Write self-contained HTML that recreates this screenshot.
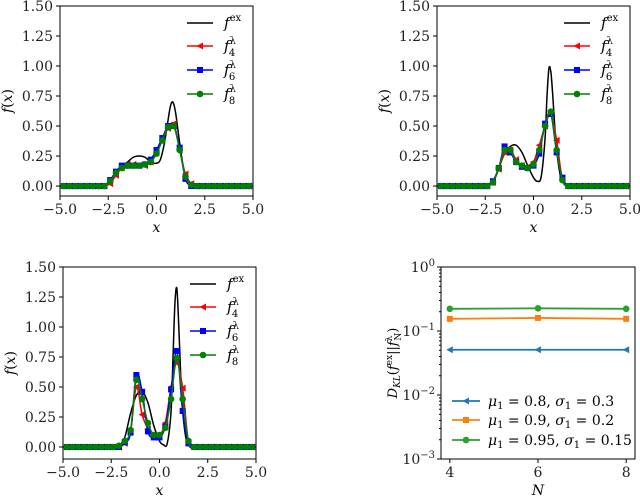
<!DOCTYPE html>
<html><head><meta charset="utf-8">
<style>
body{margin:0;background:#fff;}
svg{display:block;font-family:"DejaVu Serif","Liberation Serif",serif;}
.tk{font-size:14px;fill:#222;}
.it{font-style:italic;}
</style></head>
<body>
<svg id="fig" width="640" height="497" viewBox="0 0 640 497"></svg>
<script>
// ----- data -----
const markerX = [-4.8,-4.5,-4.2,-3.9,-3.6,-3.3,-3.0,-2.7,-2.4,-2.1,-1.8,-1.5,-1.2,-0.9,-0.6,-0.3,0,0.3,0.6,0.9,1.2,1.5,1.8,2.1,2.4,2.7,3.0,3.3,3.6,3.9,4.2,4.5,4.8];
const exactX = [-5,-3,-2.7,-2.4,-2.1,-1.8,-1.5,-1.2,-0.9,-0.6,-0.3,0,0.2,0.4,0.6,0.7,0.8,0.9,1.0,1.1,1.2,1.4,1.6,1.8,2.0,5];
const exactA = [0,0,0.01,0.04,0.1,0.16,0.2,0.24,0.25,0.24,0.2,0.19,0.22,0.35,0.55,0.65,0.7,0.68,0.6,0.48,0.36,0.15,0.05,0.01,0,0];
const exactB = [0,0,0,0.01,0.04,0.15,0.27,0.33,0.34,0.28,0.17,0.07,0.04,0.08,0.4,0.75,0.98,0.95,0.75,0.5,0.3,0.08,0.02,0,0,0];
const exactC = [0,0,0,0,0.01,0.08,0.28,0.43,0.46,0.37,0.18,0.05,0.02,0.03,0.3,0.75,1.2,1.32,1.0,0.6,0.3,0.05,0.01,0,0,0];
const f4A = [0,0,0,0,0,0,0,0,0.02,0.09,0.15,0.18,0.18,0.17,0.17,0.2,0.28,0.38,0.48,0.52,0.3,0.1,0.02,0,0,0,0,0,0,0,0,0,0];
const f6A = [0,0,0,0,0,0,0,0,0.05,0.12,0.17,0.17,0.17,0.17,0.18,0.22,0.3,0.4,0.5,0.5,0.32,0.06,0,0,0,0,0,0,0,0,0,0,0];
const f8A = [0,0,0,0,0,0,0,0,0.04,0.11,0.15,0.17,0.17,0.17,0.18,0.2,0.27,0.38,0.49,0.5,0.3,0.08,0.01,0,0,0,0,0,0,0,0,0,0];
const f4B = [0,0,0,0,0,0,0,0,0,0.03,0.14,0.28,0.3,0.22,0.17,0.16,0.2,0.34,0.5,0.6,0.38,0.05,0,0,0,0,0,0,0,0,0,0,0];
const f6B = [0,0,0,0,0,0,0,0,0,0.04,0.15,0.33,0.28,0.2,0.16,0.15,0.17,0.27,0.52,0.6,0.28,0.07,0,0,0,0,0,0,0,0,0,0,0];
const f8B = [0,0,0,0,0,0,0,0,0,0.03,0.15,0.3,0.3,0.2,0.17,0.15,0.18,0.3,0.5,0.62,0.3,0.05,0,0,0,0,0,0,0,0,0,0,0];
const f4C = [0,0,0,0,0,0,0,0,0,0,0.03,0.13,0.5,0.27,0.15,0.08,0.1,0.2,0.5,0.7,0.49,0.04,0,0,0,0,0,0,0,0,0,0,0];
const f6C = [0,0,0,0,0,0,0,0,0,0,0.04,0.12,0.6,0.46,0.13,0.08,0.08,0.17,0.48,0.8,0.3,0.03,0,0,0,0,0,0,0,0,0,0,0];
const f8C = [0,0,0,0,0,0,0,0,0,0.01,0.05,0.14,0.56,0.4,0.2,0.1,0.1,0.16,0.4,0.74,0.4,0.05,0,0,0,0,0,0,0,0,0,0,0];
const xTicks = [-5,-2.5,0,2.5,5];
const xTickLabels = ["\u22125.0","\u22122.5","0.0","2.5","5.0"];
const yTicks = [0,0.25,0.5,0.75,1.0,1.25,1.5];
const yTickLabels = ["0.00","0.25","0.50","0.75","1.00","1.25","1.50"];
const klN = [4,6,8];
const klBlue = [0.051,0.051,0.051];
const klOrange = [0.155,0.16,0.155];
const klGreen = [0.222,0.226,0.222];
const klYTicks = [0,-1,-2,-3];

const NS="http://www.w3.org/2000/svg";
const svg=document.getElementById('fig');
function mk(tag,attrs,parent){const e=document.createElementNS(NS,tag);for(const k in attrs)e.setAttribute(k,attrs[k]);(parent||svg).appendChild(e);return e;}
function smooth(pts){let d=`M${pts[0][0]},${pts[0][1]}`;for(let i=0;i<pts.length-1;i++){const p0=pts[Math.max(0,i-1)],p1=pts[i],p2=pts[i+1],p3=pts[Math.min(pts.length-1,i+2)];const c1=[p1[0]+(p2[0]-p0[0])/6,p1[1]+(p2[1]-p0[1])/6],c2=[p2[0]-(p3[0]-p1[0])/6,p2[1]-(p3[1]-p1[1])/6];d+=`C${c1[0]},${c1[1]} ${c2[0]},${c2[1]} ${p2[0]},${p2[1]}`;}return d;}
function marker(type,x,y,color,g){let e;
 if(type==='tri'){e=mk('polygon',{points:`${x-3.5},${y} ${x+3},${y-3.5} ${x+3},${y+3.5}`,fill:color},g);}
 else if(type==='sq'){e=mk('rect',{x:x-3,y:y-3,width:6,height:6,fill:color},g);}
 else {e=mk('circle',{cx:x,cy:y,r:3.3,fill:color},g);}
 return e;}

function fPanel(name,x0,x1,yTop,yBot,ymin,ex,a,b,c){
 const g=mk('g',{});
 
 
 const ymax=1.5;
 const X=v=>x0+(v+5)/10*(x1-x0);
 const Y=v=>yBot-(v-ymin)/(ymax-ymin)*(yBot-yTop);
 const series=[[a,'#ff0000','tri','f4'],[b,'#0000ff','sq','f6'],[c,'#008000','circ','f8']];
 const ep=exactX.map((v,i)=>[X(v),Y(ex[i])]);
 const exl=mk('path',{d:smooth(ep),fill:'none',stroke:'#000','stroke-width':1.5},g);
 
 
 series.forEach(s=>{
  const sg=mk('g',{},g);
  
  
  const pts=markerX.map((v,i)=>[X(v),Y(s[0][i])]);
  mk('path',{d:smooth(pts),fill:'none',stroke:s[1],'stroke-width':1.5},sg);
  pts.forEach(p=>{const m=marker(s[2],p[0],p[1],s[1],sg);
   
   });
 });
 const fr=mk('rect',{x:x0,y:yTop,width:x1-x0,height:yBot-yTop,fill:'none',stroke:'#000','stroke-width':1},g);
 
 
 xTicks.forEach((v,i)=>{mk('line',{x1:X(v),x2:X(v),y1:yBot,y2:yBot+4,stroke:'#000'},g);
  const t=mk('text',{x:X(v),y:yBot+18,'text-anchor':'middle',class:'tk'},g);t.textContent=xTickLabels[i];
  
  });
 yTicks.forEach((v,i)=>{mk('line',{x1:x0-4,x2:x0,y1:Y(v),y2:Y(v),stroke:'#000'},g);
  const t=mk('text',{x:x0-7,y:Y(v)+5,'text-anchor':'end',class:'tk'},g);t.textContent=yTickLabels[i];
  
  });
 const xl=mk('text',{x:(x0+x1)/2,y:yBot+36,'text-anchor':'middle',class:'it','font-size':14},g);xl.textContent='x';
 
 
 const yl=mk('text',{transform:`translate(${x0-48},${(yTop+yBot)/2}) rotate(-90)`,'text-anchor':'middle','font-size':14},g);
 yl.innerHTML='<tspan font-style="italic">f</tspan>(<tspan font-style="italic">x</tspan>)';
 
 
 const lg=mk('g',{},g);
 
 
 const lx=x1-66, rows=[[yTop+17,'#000',null,'ex',''],[yTop+40,'#ff0000','tri','λ','4'],[yTop+64,'#0000ff','sq','λ','6'],[yTop+88,'#008000','circ','λ','8']];
 rows.forEach(r=>{
  const e=mk('g',{},lg);
  
  
  mk('line',{x1:lx,x2:lx+26,y1:r[0],y2:r[0],stroke:r[1],'stroke-width':1.5},e);
  if(r[2])marker(r[2],lx+13,r[0],r[1],e);
  const t=mk('text',{x:lx+37,y:r[0]+5,'font-size':15},e);
  t.innerHTML=`<tspan font-style="italic">f</tspan><tspan font-size="10" dy="-7">${r[3]}</tspan>`+(r[4]?`<tspan font-size="10" dx="-7" dy="12">${r[4]}</tspan>`:'');
 });
}
fPanel('panel-top-left',60,253,6,196,-0.083,exactA,f4A,f6A,f8A);
fPanel('panel-top-right',437,630,6,196,-0.083,exactB,f4B,f6B,f8B);
fPanel('panel-bottom-left',63,256,267,459,-0.1,exactC,f4C,f6C,f8C);

(function(){
 const g=mk('g',{});
 
 
 const x0=441,x1=635,yTop=267,yBot=459;
 const X=v=>x0+(v-3.8)/4.4*(x1-x0);
 const Y=v=>yTop+(0-Math.log10(v))/3*(yBot-yTop);
 const series=[[klBlue,'#1f77b4','tri','mu-0.8'],[klOrange,'#ff7f0e','sq','mu-0.9'],[klGreen,'#2ca02c','circ','mu-0.95']];
 series.forEach(s=>{
  const sg=mk('g',{},g);
  
  
  const pts=klN.map((n,i)=>[X(n),Y(s[0][i])]);
  mk('polyline',{points:pts.map(p=>p.join(',')).join(' '),fill:'none',stroke:s[1],'stroke-width':1.8},sg);
  pts.forEach(p=>{const m=marker(s[2],p[0],p[1],s[1],sg);
   
   });
 });
 mk('rect',{x:x0,y:yTop,width:x1-x0,height:yBot-yTop,fill:'none',stroke:'#000'},g);
 klN.forEach(n=>{mk('line',{x1:X(n),x2:X(n),y1:yBot,y2:yBot+4,stroke:'#000'},g);
  const t=mk('text',{x:X(n),y:yBot+18,'text-anchor':'middle',class:'tk'},g);t.textContent=n;
  
  });
 klYTicks.forEach(e=>{const y=Y(Math.pow(10,e));
  mk('line',{x1:x0-4,x2:x0,y1:y,y2:y,stroke:'#000'},g);
  const t=mk('text',{x:x0-6,y:y+5,'text-anchor':'end',class:'tk'},g);
  t.innerHTML=`10<tspan font-size="10" dy="-6">${e===0?'0':'\u2212'+(-e)}</tspan>`;
  
  
  if(e>-3)for(let k=2;k<10;k++){const ym=Y(k*Math.pow(10,e-1));mk('line',{x1:x0-2,x2:x0,y1:ym,y2:ym,stroke:'#000'},g);}
 });
 const xl=mk('text',{x:(x0+x1)/2,y:yBot+36,'text-anchor':'middle',class:'it','font-size':14},g);xl.textContent='N';
 
 
 const yl=mk('text',{transform:`translate(397,${(yTop+yBot)/2}) rotate(-90)`,'text-anchor':'middle','font-size':13},g);
 yl.innerHTML='<tspan font-style="italic">D</tspan><tspan font-size="9" dy="3" font-style="italic">KL</tspan><tspan dy="-3">(</tspan><tspan font-style="italic">f</tspan><tspan font-size="9" dy="-5">ex</tspan><tspan dy="5">||</tspan><tspan font-style="italic">f</tspan><tspan font-size="9" dy="-5">λ</tspan><tspan font-size="9" dx="-5" dy="9">N</tspan><tspan dy="-4">)</tspan>';
 
 
 const lg=mk('g',{},g);
 
 
 const labels=['<tspan font-style="italic">μ</tspan><tspan font-size="10" dy="3">1</tspan><tspan dy="-3"> = 0.8, </tspan><tspan font-style="italic">σ</tspan><tspan font-size="10" dy="3">1</tspan><tspan dy="-3"> = 0.3</tspan>',
  '<tspan font-style="italic">μ</tspan><tspan font-size="10" dy="3">1</tspan><tspan dy="-3"> = 0.9, </tspan><tspan font-style="italic">σ</tspan><tspan font-size="10" dy="3">1</tspan><tspan dy="-3"> = 0.2</tspan>',
  '<tspan font-style="italic">μ</tspan><tspan font-size="10" dy="3">1</tspan><tspan dy="-3"> = 0.95, </tspan><tspan font-style="italic">σ</tspan><tspan font-size="10" dy="3">1</tspan><tspan dy="-3"> = 0.15</tspan>'];
 [401,420,440].forEach((y,i)=>{
  const e=mk('g',{},lg);
  
  
  mk('line',{x1:452,x2:480,y1:y,y2:y,stroke:series[i][1],'stroke-width':1.8},e);
  marker(series[i][2],466,y,series[i][1],e);
  const t=mk('text',{x:488,y:y+5,'font-size':14},e);t.innerHTML=labels[i];
 });
})();
</script>
</body></html>
